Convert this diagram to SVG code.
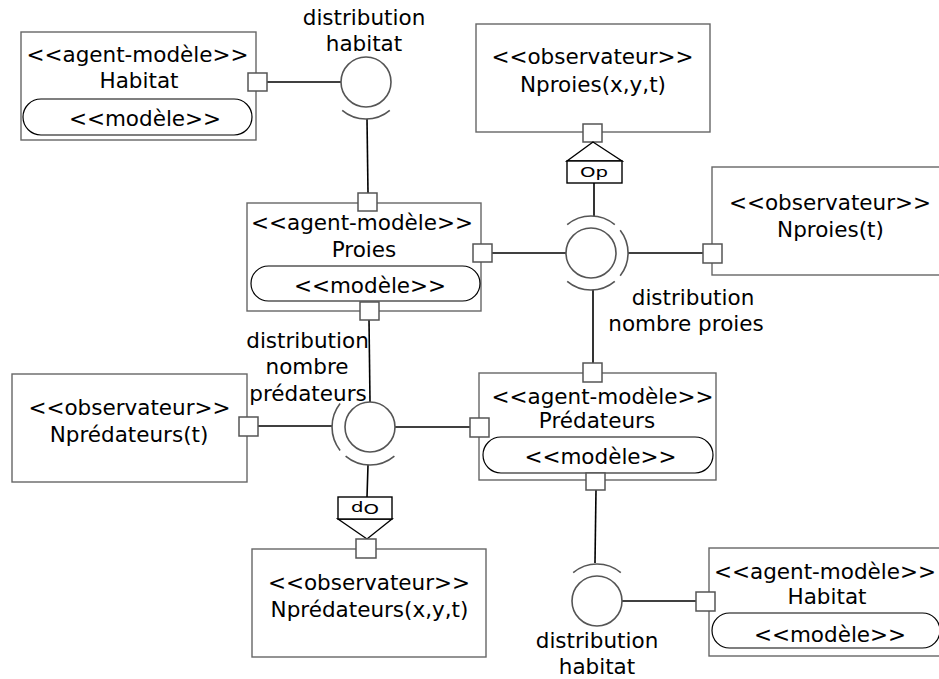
<svg xmlns="http://www.w3.org/2000/svg" width="939" height="679" viewBox="0 0 939 679">
<style>
text{font-family:"DejaVu Sans","Liberation Sans",sans-serif;font-size:21.5px;fill:#000;text-anchor:middle}
.box{fill:#fff;stroke:#666;stroke-width:1.4}
.pill{fill:#fff;stroke:#000;stroke-width:1.2}
.port{fill:#fff;stroke:#555;stroke-width:1.5}
.ball{fill:#fff;stroke:#555;stroke-width:1.6}
.sock{fill:none;stroke:#555;stroke-width:1.6}
.wire{fill:none;stroke:#000;stroke-width:1.6}
.tri{fill:#fff;stroke:#000;stroke-width:1.4}
.op{font-size:14px}
</style>
<rect width="939" height="679" fill="#fff"/>
<g id="connectors">
<line class="wire" x1="267" y1="82" x2="341" y2="82"/>
<line class="wire" x1="367" y1="119" x2="368" y2="193"/>
<line class="wire" x1="492" y1="253" x2="566" y2="253"/>
<line class="wire" x1="594" y1="183" x2="594" y2="216"/>
<line class="wire" x1="628" y1="253" x2="703" y2="253"/>
<line class="wire" x1="593" y1="290" x2="593" y2="363"/>
<line class="wire" x1="369" y1="320" x2="370" y2="402"/>
<line class="wire" x1="258" y1="426" x2="332" y2="426"/>
<line class="wire" x1="395" y1="427" x2="470" y2="427"/>
<line class="wire" x1="368" y1="465" x2="367" y2="497"/>
<line class="wire" x1="596" y1="490" x2="595" y2="563"/>
<line class="wire" x1="622" y1="601" x2="696" y2="601"/>
</g>
<g id="habitat1">
<rect class="box" x="21" y="32" width="235" height="108"/>
<text x="137.5" y="62">&lt;&lt;agent-modèle&gt;&gt;</text>
<text x="139" y="87.5">Habitat</text>
<rect class="pill" x="23" y="99" width="229" height="36" rx="18"/>
<text x="145" y="126">&lt;&lt;modèle&gt;&gt;</text>
<rect class="port" x="248" y="73" width="19" height="18"/>
</g>
<g id="iface-habitat1">
<circle class="ball" cx="366" cy="82" r="25"/>
<path class="sock" d="M342.2,110.3 A37,37 0 0 0 389.8,110.3"/>
<text x="364" y="25">distribution</text>
<text x="364" y="51">habitat</text>
</g>
<g id="proies">
<rect class="box" x="247" y="203" width="234" height="108"/>
<text x="362" y="230">&lt;&lt;agent-modèle&gt;&gt;</text>
<text x="364" y="257">Proies</text>
<rect class="pill" x="251" y="266" width="229" height="35" rx="17.5"/>
<text x="370" y="292.5">&lt;&lt;modèle&gt;&gt;</text>
<rect class="port" x="358" y="193" width="19" height="18"/>
<rect class="port" x="473" y="244" width="19" height="18"/>
<rect class="port" x="360" y="302" width="19" height="18"/>
</g>
<g id="nproies-xyt">
<rect class="box" x="476" y="24" width="234" height="108"/>
<text x="592.5" y="64">&lt;&lt;observateur&gt;&gt;</text>
<text x="593" y="92">Nproies(x,y,t)</text>
<rect class="port" x="583" y="124" width="19" height="18"/>
<polygon class="tri" points="593,142 567,161 622,161"/>
<rect class="tri" x="567" y="161" width="55" height="22"/>
<text class="op" x="594" y="177" textLength="28" lengthAdjust="spacingAndGlyphs">Op</text>
</g>
<g id="iface-proies">
<circle class="ball" cx="591" cy="253" r="25"/>
<path class="sock" d="M567.2,224.7 A37,37 0 0 1 614.8,224.7"/>
<path class="sock" d="M620.2,230.2 A37,37 0 0 1 620.2,275.8"/>
<path class="sock" d="M614.8,281.3 A37,37 0 0 1 567.2,281.3"/>
<text x="693" y="304.5">distribution</text>
<text x="686" y="331">nombre proies</text>
</g>
<g id="nproies-t">
<rect class="box" x="712" y="167" width="235" height="108"/>
<text x="830" y="209.5">&lt;&lt;observateur&gt;&gt;</text>
<text x="830.5" y="237">Nproies(t)</text>
<rect class="port" x="703" y="244" width="19" height="19"/>
</g>
<g id="predateurs">
<rect class="box" x="479" y="373" width="237" height="107"/>
<text x="602.5" y="404">&lt;&lt;agent-modèle&gt;&gt;</text>
<text x="597" y="428">Prédateurs</text>
<rect class="pill" x="483" y="437" width="230" height="36" rx="18"/>
<text x="600.5" y="464">&lt;&lt;modèle&gt;&gt;</text>
<rect class="port" x="583" y="363" width="19" height="19"/>
<rect class="port" x="470" y="418" width="19" height="19"/>
<rect class="port" x="586" y="473" width="19" height="17"/>
</g>
<g id="iface-predateurs">
<circle class="ball" cx="370" cy="427" r="25"/>
<path class="sock" d="M340.1,403.6 A38,38 0 0 0 340.1,450.4"/>
<path class="sock" d="M394.4,456.1 A38,38 0 0 1 345.6,456.1"/>
<text x="307.5" y="347.5">distribution</text>
<text x="307" y="374">nombre</text>
<text x="308" y="401">prédateurs</text>
</g>
<g id="npredateurs-t">
<rect class="box" x="12" y="374" width="235" height="108"/>
<text x="129.5" y="414.5">&lt;&lt;observateur&gt;&gt;</text>
<text x="129" y="442">Nprédateurs(t)</text>
<rect class="port" x="239" y="417" width="19" height="19"/>
</g>
<g id="npredateurs-xyt">
<rect class="box" x="252" y="549" width="234" height="108"/>
<text x="369" y="590">&lt;&lt;observateur&gt;&gt;</text>
<text x="369.5" y="617">Nprédateurs(x,y,t)</text>
<polygon class="tri" points="338,519 392,519 367,539"/>
<rect class="tri" x="338" y="497" width="54" height="22"/>
<text class="op" x="365" y="512" textLength="28" lengthAdjust="spacingAndGlyphs" transform="rotate(180 365 508)">Op</text>
<rect class="port" x="356" y="539" width="20" height="19"/>
</g>
<g id="iface-habitat2">
<circle class="ball" cx="597" cy="601" r="25"/>
<path class="sock" d="M573.2,572.7 A37,37 0 0 1 620.8,572.7"/>
<text x="597" y="648">distribution</text>
<text x="597" y="674">habitat</text>
</g>
<g id="habitat2">
<rect class="box" x="709" y="548" width="236" height="108"/>
<text x="825" y="578.5">&lt;&lt;agent-modèle&gt;&gt;</text>
<text x="827" y="604">Habitat</text>
<rect class="pill" x="712" y="613" width="228" height="35" rx="17.5"/>
<text x="830" y="642">&lt;&lt;modèle&gt;&gt;</text>
<rect class="port" x="696" y="592" width="19" height="19"/>
</g>
</svg>
